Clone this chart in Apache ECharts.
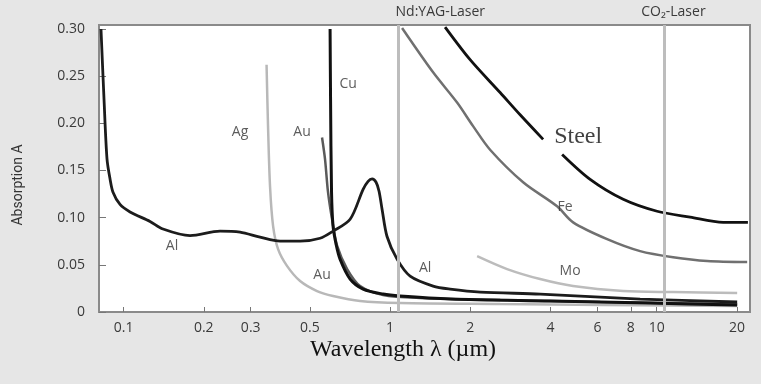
<!DOCTYPE html>
<html><head><meta charset="utf-8">
<script src="https://cdn.jsdelivr.net/npm/echarts@6/dist/echarts.min.js"></script>
<style>html,body{margin:0;padding:0;background:#e6e6e6;}#c{width:761px;height:384px;}</style>
</head><body><div id="c"></div>
<script>
const alLambda  = [0.0823,0.0845,0.0867,0.089,0.0913,0.097,0.1058,0.1257,0.1406,0.1776,0.2301,0.2736,0.3252,0.3866,0.4596,0.5463,0.611,0.708,0.792,0.827,0.856,0.886,0.909,0.933,0.974,1.062,1.189,1.45,1.68,2.18,3.66,8.67,20.05];
const alA       = [0.30,0.225,0.162,0.141,0.127,0.114,0.106,0.096,0.088,0.081,0.0857,0.0846,0.0793,0.0751,0.0751,0.0782,0.0857,0.0983,0.130,0.1385,0.141,0.1375,0.128,0.109,0.080,0.056,0.038,0.0275,0.0243,0.0211,0.019,0.0137,0.0106];
const cuLambda  = [0.5955,0.598,0.603,0.611,0.627,0.649,0.708,0.792,0.941,1.09,1.68,3.98,9.45,20.05];
const cuA       = [0.30,0.225,0.127,0.091,0.072,0.056,0.035,0.0243,0.019,0.0169,0.0137,0.0116,0.0095,0.0074];
const auLambda  = [0.5555,0.570,0.585,0.606,0.633,0.690,0.772,0.941,1.296,2.59,6.14,20.05];
const auA       = [0.185,0.162,0.127,0.098,0.070,0.0455,0.0275,0.018,0.0148,0.0127,0.0106,0.0085];
const agLambda  = [0.344,0.3484,0.3545,0.364,0.380,0.411,0.4596,0.532,0.611,0.772,1.09,2.59,20.05];
const agA       = [0.262,0.197,0.133,0.091,0.0666,0.0486,0.0328,0.0222,0.0169,0.0116,0.0095,0.0085,0.0063];
const feLambda  = [1.109,1.45,1.784,2.048,2.372,3.156,4.232,4.86,6.52,8.67,11.53,15.47,21.86];
const feA       = [0.301,0.254,0.222,0.197,0.172,0.1375,0.112,0.095,0.0772,0.0645,0.058,0.054,0.0529];
const steelLambdaA = [1.608,1.996,2.587,3.075,3.751];
const steelAA      = [0.302,0.2675,0.2326,0.209,0.183];
const steelLambdaB = [4.42,5.63,7.49,10.04,13.36,17.77,22.0];
const steelAB      = [0.167,0.1406,0.1195,0.1068,0.1005,0.095,0.095];
const moLambda  = [2.121,2.748,3.655,4.86,7.49,11.53,20.05];
const moA       = [0.0592,0.0455,0.0349,0.0275,0.0222,0.0211,0.0201];

const xTickValues = [0.1,0.2,0.3,0.5,1,2,4,6,8,10,20];
const xTickLabels = ['0.1','0.2','0.3','0.5','1','2','4','6','8','10','20'];
const yTickValues = [0,0.05,0.10,0.15,0.20,0.25,0.30];
const yTickLabels = ['0','0.05','0.10','0.15','0.20','0.25','0.30'];

const laserNames  = ['Nd:YAG-Laser','CO\u2082-Laser'];
const laserLambda = [1.064,10.6];

// curve labels: [wavelength, absorption, text]
const curveLabelLambda = [0.696,0.2736,0.4676,0.152,0.5555,1.353,4.536,4.736];
const curveLabelA      = [0.242,0.191,0.191,0.0698,0.039,0.0465,0.111,0.0434];
const curveLabelText   = ['Cu','Ag','Au','Al','Au','Al','Fe','Mo'];
const steelLabel = {lambda:5.075, a:0.186, text:'Steel'};

const L = Math.log10;
const pts = (xs, ys) => xs.map((x,i)=>[L(x), ys[i]]);

const chart = echarts.init(document.getElementById('c'), null, {renderer:'canvas'});
const xMin = L(0.0809), xMax = L(22.4);

function lineSeries(name, data, color, width) {
  return {name, type:'line', data, showSymbol:false, symbol:'none', smooth:0.3,
    lineStyle:{color, width}, z:3, silent:true, clip:true};
}

const steelData = pts(steelLambdaA, steelAA).concat([[ (L(3.751)+L(4.42))/2, '-' ]], pts(steelLambdaB, steelAB));

const option = {
  backgroundColor:'#e6e6e6',
  animation:false,
  grid:{left:99, right:11, top:25, bottom:72, show:true, backgroundColor:'#ffffff', borderColor:'#8a8a8a', borderWidth:2, containLabel:false},
  xAxis:{type:'value', min:xMin, max:xMax,
    axisLine:{show:false, onZero:false}, splitLine:{show:false},
    axisTick:{show:true, inside:true, length:5, lineStyle:{color:'#777', width:1}, customValues:xTickValues.map(L)},
    axisLabel:{show:true, margin:9, color:'#3a3a3a', fontFamily:'Open Sans', fontSize:14, customValues:xTickValues.map(L),
      formatter:(v)=>{ let best=0,bd=1e9; xTickValues.forEach((t,i)=>{const d=Math.abs(L(t)-v); if(d<bd){bd=d;best=i;}}); return xTickLabels[best]; }}
  },
  yAxis:{type:'value', min:0, max:0.3042,
    axisLine:{show:false, onZero:false}, splitLine:{show:false},
    axisTick:{show:true, inside:true, length:7, lineStyle:{color:'#777', width:1}, customValues:yTickValues},
    axisLabel:{show:true, margin:14, color:'#3a3a3a', fontFamily:'Open Sans', fontSize:14, customValues:yTickValues,
      formatter:(v)=>{ let best=0,bd=1e9; yTickValues.forEach((t,i)=>{const d=Math.abs(t-v); if(d<bd){bd=d;best=i;}}); return yTickLabels[best]; }}
  },
  series:[
    {type:'line', data:[], z:1, silent:true,
      markLine:{symbol:'none', silent:true, label:{show:false},
        lineStyle:{color:'#bdbdbd', width:3, type:'solid'},
        data: laserLambda.map(l=>({xAxis:L(l)}))}},
    lineSeries('Ag', pts(agLambda, agA), '#b8b8b8', 2.5),
    lineSeries('Mo', pts(moLambda, moA), '#bcbcbc', 2.5),
    lineSeries('Fe', pts(feLambda, feA), '#707070', 2.5),
    lineSeries('Au', pts(auLambda, auA), '#5a5a5a', 2.5),
    lineSeries('Cu', pts(cuLambda, cuA), '#111111', 3),
    lineSeries('Al', pts(alLambda, alA), '#1c1c1c', 2.8),
    Object.assign(lineSeries('Steel', steelData, '#111111', 2.8), {connectNulls:false}),
    {type:'scatter', symbolSize:0, silent:true, z:5,
      data: curveLabelLambda.map((l,i)=>({value:[L(l), curveLabelA[i]], name:curveLabelText[i]})),
      label:{show:true, position:'inside', formatter:'{b}', color:'#333', fontFamily:'Open Sans', fontSize:14}},
    {type:'scatter', symbolSize:0, silent:true, z:5,
      data:[{value:[L(steelLabel.lambda), steelLabel.a], name:steelLabel.text}],
      label:{show:true, position:'inside', formatter:'{b}', color:'#111', fontFamily:'Liberation Serif', fontSize:24}}
  ]
};
chart.setOption(option);

// laser labels above the plot, and axis titles
const g = [];
const laserDx = [43, 10];
laserLambda.forEach((l,i)=>{
  const p = chart.convertToPixel({xAxisIndex:0, yAxisIndex:0}, [L(l), 0.3]);
  g.push({type:'text', x:p[0]+laserDx[i], y:12, style:{text:laserNames[i], fill:'#3a3a3a', font:'14px "Open Sans"', textAlign:'center', textVerticalAlign:'middle'}});
});
g.push({type:'text', x:403, y:350, style:{text:'Wavelength \u03bb (\u00b5m)', fill:'#111', font:'24px "Liberation Serif"', textAlign:'center', textVerticalAlign:'middle'}});
g.push({type:'text', x:18, y:185, rotation:Math.PI/2, style:{text:'Absorption A', fill:'#333', font:'14px "Liberation Sans Narrow", "Roboto"', textAlign:'center', textVerticalAlign:'middle'}});
chart.setOption({graphic:g});
</script></body></html>
